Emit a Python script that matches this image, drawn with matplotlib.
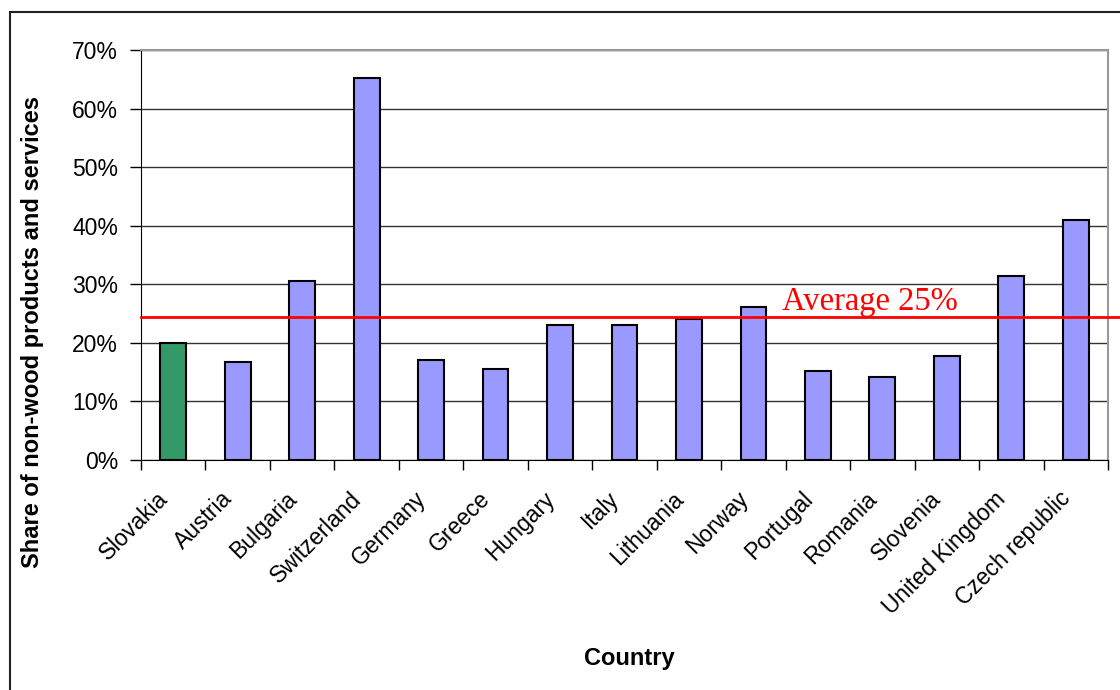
import matplotlib.pyplot as plt
from matplotlib.patches import Rectangle
from matplotlib.lines import Line2D
from matplotlib.ticker import FuncFormatter, MultipleLocator

countries = ["Slovakia", "Austria", "Bulgaria", "Switzerland", "Germany",
             "Greece", "Hungary", "Italy", "Lithuania", "Norway",
             "Portugal", "Romania", "Slovenia", "United Kingdom", "Czech republic"]
share = [20.0, 16.7, 30.6, 65.3, 17.1, 15.5, 23.0, 23.0, 24.0, 26.2,
         15.2, 14.2, 17.8, 31.5, 41.0]
average = 24.5
bar_colors = ["#339966"] + ["#9999FF"] * (len(countries) - 1)

plt.rcParams['font.family'] = ['Liberation Sans', 'DejaVu Sans']

fig = plt.figure(figsize=(11.2, 6.9), dpi=100)
ax = fig.add_axes([141 / 1120, 1 - 460 / 690, 967 / 1120, 410 / 690])

# outer frame of the chart object
fig.patches.append(Rectangle((10 / 1120, -0.05), 1.2, 1 - 12 / 690 + 0.05,
                             transform=fig.transFigure, fill=False,
                             edgecolor="#222222", lw=1.5))

x = list(range(len(countries)))
ax.bar(x, share, width=0.4, color=bar_colors, edgecolor="black", lw=1.5, zorder=3)

ax.set_xlim(-0.5, len(countries) - 0.5)
ax.set_ylim(0, 70)
ax.yaxis.set_major_locator(MultipleLocator(10))
ax.yaxis.set_major_formatter(FuncFormatter(lambda v, p: f"{v:.0f}%"))
ax.yaxis.grid(True, color="#333333", lw=1)
ax.set_axisbelow(True)

# category boundaries get the tick marks, labels sit on (slightly shifted) invisible minor ticks
ax.set_xticks([i - 0.5 for i in range(len(countries) + 1)], minor=False)
ax.set_xticklabels([])
ax.set_xticks([i - 0.14 for i in x], minor=True)
ax.set_xticklabels(countries, minor=True, rotation=45, ha="right", va="center",
                   rotation_mode="anchor", fontsize=16.5)
ax.tick_params(axis="x", which="minor", length=0, pad=25.5)
ax.tick_params(axis="x", which="major", length=7, width=1, direction="out")
ax.tick_params(axis="y", length=8, width=1, direction="out", labelsize=16.5, pad=8.5)

ax.spines["top"].set_color("#999999")
ax.spines["right"].set_color("#999999")
ax.spines["top"].set_linewidth(1.5)
ax.spines["right"].set_linewidth(1.5)
ax.spines["left"].set_color("black")
ax.spines["bottom"].set_color("black")

# average line, runs past the plot area to the right
line = Line2D([-0.5, 16], [average, average], color="#FF0000", lw=2, zorder=4)
line.set_clip_on(False)
ax.add_line(line)
ax.text(9.44, average - 0.15, "Average 25%", color="#FF0000", fontsize=23.5,
        family="Liberation Serif", ha="left", va="bottom", zorder=5)

ax.set_xlabel("Country", fontsize=17, fontweight="bold")
ax.xaxis.set_label_coords(0.505, -0.455)
fig.text(33 / 1120, 1 - 332 / 690, "Share of non-wood products and services",
         rotation=90, ha="center", va="center", fontsize=17, fontweight="bold")

fig.savefig("out.png", dpi=100)
